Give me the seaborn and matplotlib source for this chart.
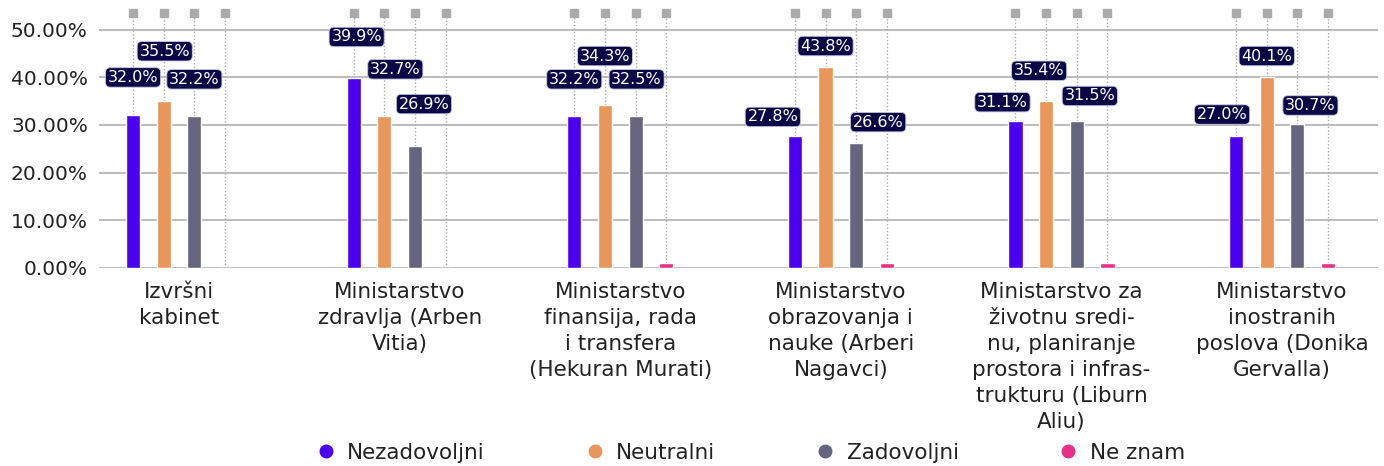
import matplotlib
matplotlib.use("Agg")
import matplotlib.pyplot as plt
from matplotlib.lines import Line2D
import seaborn as sns
import pandas as pd

categories = [
    "Izvršni\nkabinet",
    "Ministarstvo\nzdravlja (Arben\nVitia)",
    "Ministarstvo\nfinansija, rada\ni transfera\n(Hekuran Murati)",
    "Ministarstvo\nobrazovanja i\nnauke (Arberi\nNagavci)",
    "Ministarstvo za\nživotnu sredi-\nnu, planiranje\nprostora i infras-\ntrukturu (Liburn\nAliu)",
    "Ministarstvo\ninostranih\nposlova (Donika\nGervalla)",
]
series = ["Nezadovoljni", "Neutralni", "Zadovoljni", "Ne znam"]

nezadovoljni = [32.0, 39.9, 31.9, 27.7, 30.8, 27.7]
neutralni = [35.0, 31.9, 34.2, 42.2, 35.0, 40.0]
zadovoljni = [31.9, 25.6, 31.9, 26.2, 30.8, 30.2]
ne_znam = [0.0, 0.0, 1.0, 1.0, 1.0, 1.0]

labels_nezadovoljni = ["32.0%", "39.9%", "32.2%", "27.8%", "31.1%", "27.0%"]
labels_neutralni = ["35.5%", "32.7%", "34.3%", "43.8%", "35.4%", "40.1%"]
labels_zadovoljni = ["32.2%", "26.9%", "32.5%", "26.6%", "31.5%", "30.7%"]

yticks = [0, 10, 20, 30, 40, 50]

# label placement (style/position, separate from data)
label_dy = [
    [8.0, 8.6, 7.7, 4.0, 4.0, 4.5],
    [10.5, 9.8, 10.3, 4.4, 6.4, 4.5],
    [7.7, 8.8, 7.7, 4.4, 5.3, 3.9],
]
label_dx_px = [
    [0, 3, 0, -22, -13, -14],
    [1, 11, 0, 0, -7, 0],
    [0, 9, 1, 22, 13, 13],
]

colors = ["#4B00EE", "#E8965A", "#656580", "#E8308A"]

rows = []
for s, vals in zip(series, [nezadovoljni, neutralni, zadovoljni, ne_znam]):
    for c, v in zip(categories, vals):
        rows.append({"cat": c, "series": s, "value": v})
df = pd.DataFrame(rows)

sns.set_theme(style="white")
plt.rcParams["font.family"] = ["DejaVu Sans"]

fig = plt.figure(figsize=(13.84, 4.66), dpi=100)
ax = fig.add_axes([0.0715, 0.4255, 0.9242, 0.5615])

sns.barplot(data=df, x="cat", y="value", hue="series", hue_order=series,
            order=categories, palette=colors, width=0.556, gap=0.54,
            saturation=1, ax=ax, legend=False, zorder=3)

ax.set_ylim(0, 55)
ax.set_xlim(-0.363, 5.435)
ax.set_yticks(yticks)
ax.set_yticklabels([f"{t:.2f}%" for t in yticks], fontsize=14.5, color="#222222")
ax.yaxis.grid(True, color="#bdbdbd", linewidth=1.5, zorder=0)
ax.set_axisbelow(True)
for sp in ax.spines.values():
    sp.set_visible(False)
ax.tick_params(axis="both", length=0)
ax.tick_params(axis="x", pad=10, labelsize=15.5, labelcolor="#222222")
ax.tick_params(axis="y", pad=8)
for t in ax.get_xticklabels():
    t.set_linespacing(1.38)
ax.set_xlabel("")
ax.set_ylabel("")

top_y = 53.5
label_sets = [labels_nezadovoljni, labels_neutralni, labels_zadovoljni]
for si, cont in enumerate(ax.containers):
    for ci, p in enumerate(cont.patches):
        xc = p.get_x() + p.get_width() / 2
        h = p.get_height()
        ax.plot([xc, xc], [h, top_y], linestyle=(0, (1, 1.5)), color="#aaaaaa",
                linewidth=1.0, zorder=2)
        ax.plot([xc], [top_y], marker="s", markersize=5.5, color="#aaaaaa",
                linestyle="none", zorder=2, clip_on=False)
        if si < 3:
            ax.annotate(label_sets[si][ci], xy=(xc, h + label_dy[si][ci]),
                        xytext=(label_dx_px[si][ci], 0), textcoords="offset pixels",
                        ha="center", va="center", fontsize=11.5, color="white",
                        zorder=5,
                        bbox=dict(boxstyle="round,pad=0.14,rounding_size=0.3",
                                  facecolor="#0B0747", edgecolor="#c8c8e0",
                                  linewidth=0.6))

handles = [Line2D([0], [0], marker="o", linestyle="none", markersize=9,
                  markerfacecolor=c, markeredgecolor=c) for c in colors]
fig.legend(handles, series, loc="center", bbox_to_anchor=(750 / 1384, 1 - 453 / 466),
           ncol=4, frameon=False, fontsize=15.5, handlelength=1.0,
           handletextpad=0.5, columnspacing=4.6, labelcolor="#222222")

fig.savefig("out.png", dpi=100)
